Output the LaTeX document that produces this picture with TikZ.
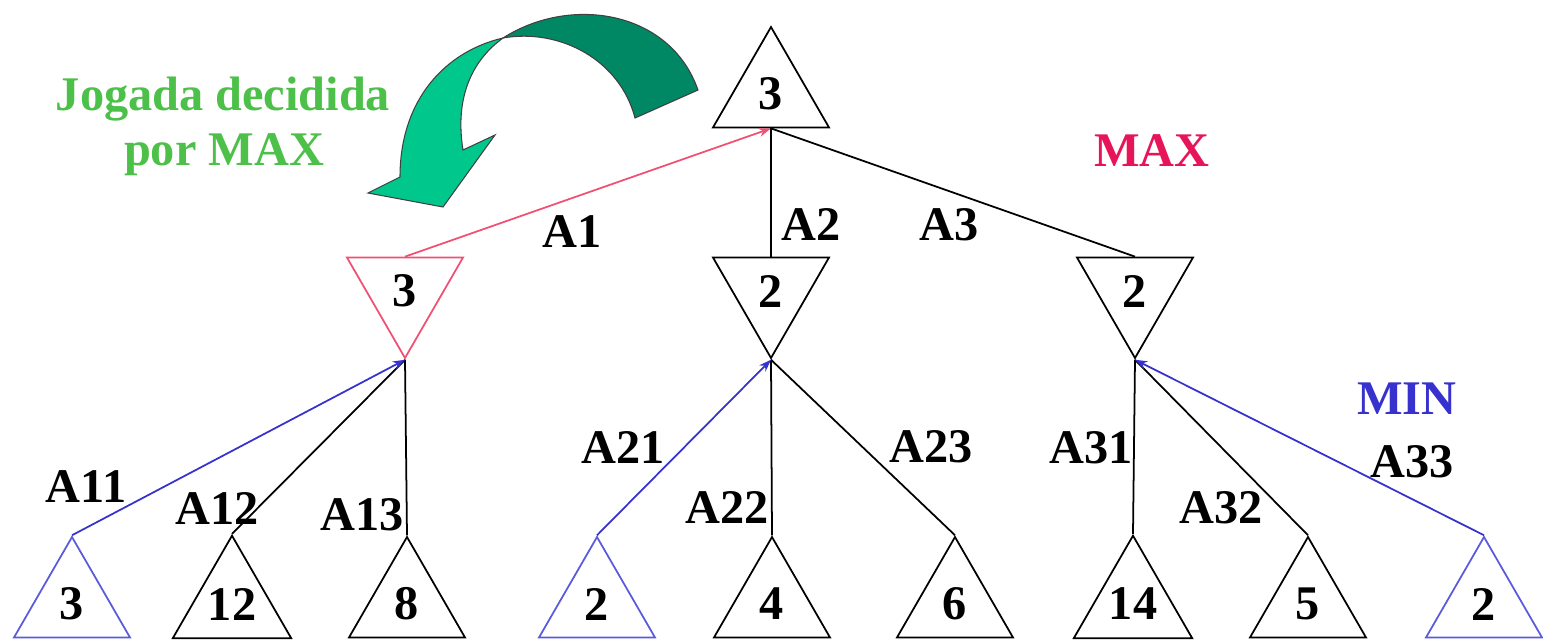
\documentclass[tikz,border=0pt]{standalone}
\usepackage{fontspec}
\setmainfont{Liberation Serif}
\usetikzlibrary{shapes.geometric,arrows.meta}
\definecolor{verde}{RGB}{76,192,72}
\definecolor{verdeesc}{RGB}{0,136,100}
\definecolor{verdecl}{RGB}{0,200,140}
\definecolor{maxcor}{RGB}{232,20,90}
\definecolor{rosa}{RGB}{240,80,115}
\definecolor{azul}{RGB}{55,50,205}
\definecolor{azulcl}{RGB}{90,90,220}

\begin{document}
\begin{tikzpicture}[x=0.02cm, y=-0.02cm,
    every node/.style={font=\fontsize{27.5}{31}\selectfont\bfseries},
    tri/.style={draw, line width=1pt, regular polygon, regular polygon sides=3,
        minimum size=2.68cm, inner sep=0pt},
    trimin/.style={tri, shape border rotate=180},
    linha/.style={line width=1pt},
    seta/.style={line width=1pt, -{Stealth[length=7pt,width=5pt]}}]
    \useasboundingbox (0,0) rectangle (1543,640);

    % Seta verde
    \draw[fill=verdeesc, draw=black!75, line width=0.6pt] (698,90)
        .. controls (670,10) and (570,-5) .. (503,38)
        .. controls (560,28) and (620,60) .. (635,118) -- cycle;
    \draw[fill=verdecl, draw=black!75, line width=0.6pt] (503,38)
        .. controls (447,51) and (400,98) .. (400,177) -- (368,193) -- (443,207)
        -- (495,135) -- (463,150) .. controls (455,100) and (470,62) .. (503,38) -- cycle;
    \node[verde, anchor=base] (jogada) at (223,110) {Jogada decidida};
    \node[verde, anchor=base] (pormax) at (224,165) {por MAX};

    % Raiz MAX
    \node[tri] (r) at (771,94) {3};
    \node[maxcor] (tmax) at (1152,151) {MAX};

    % Nos MIN
    \node[trimin, draw=rosa] (m1) at (405,291) {3};
    \node[trimin] (m2) at (771,291) {2};
    \node[trimin] (m3) at (1135,291) {2};
    \node[azul] (tmin) at (1407,399) {MIN};

    % Folhas
    \foreach \nome/\x/\val/\cor in {f11/72/3/azulcl, f12/232/12/black, f13/407/8/black,
        f21/597/2/azulcl, f22/772/4/black, f23/955/6/black,
        f31/1133/14/black, f32/1308/5/black, f33/1484/2/azulcl}
        \node[tri, draw=\cor] (\nome) at (\x,604) {\val};

    % Arestas
    \draw[seta, rosa] (m1.north) -- (r.south);
    \draw[linha] (m2.north) -- (r.south);
    \draw[linha] (m3.north) -- (r.south);
    \foreach \f/\m in {f12/m1, f13/m1, f22/m2, f23/m2, f31/m3, f32/m3}
        \draw[linha] (\f.north) -- (\m.south);
    \foreach \f/\m in {f11/m1, f21/m2, f33/m3}
        \draw[seta, azul] (\f.north) -- (\m.south);

    % Rotulos
    \foreach \nome/\x/\y in {A1/572/232, A2/811/224, A3/949/225,
        A11/86/487, A12/217/508, A13/362/515,
        A21/623/447, A22/727/507, A23/931/447,
        A31/1091/448, A32/1221/508, A33/1412/462}
        \node (t\nome) at (\x,\y) {\nome};
\end{tikzpicture}
\end{document}
